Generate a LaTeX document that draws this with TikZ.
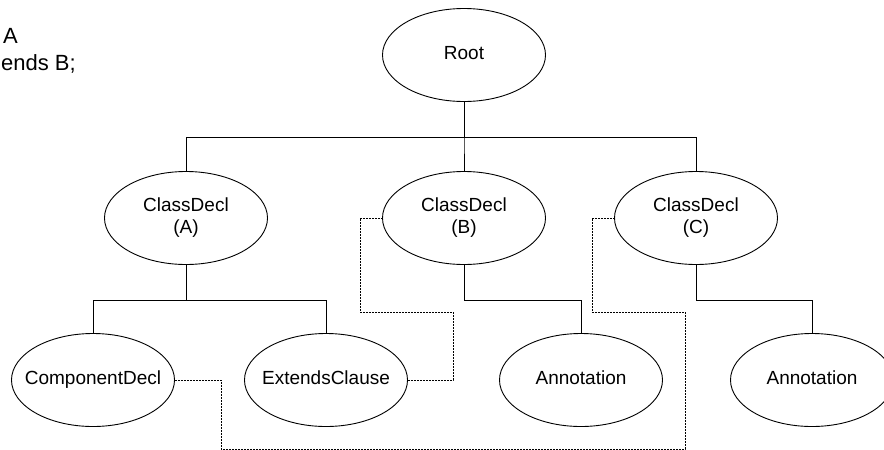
\documentclass[tikz,border=0pt]{standalone}
\usepackage{fontspec}
\setmainfont{Liberation Sans}
\usetikzlibrary{shapes.geometric}

% label of an oval, centred on a box of no width
\newcommand{\tlabel}[1]{\makebox[0pt]{\begin{tabular}{@{}c@{}}#1\end{tabular}}}

\begin{document}
\begin{tikzpicture}[x=1pt, y=-1pt, node distance=163pt]
    \tikzstyle{oval} = [draw, ellipse, line width=0.9pt, minimum width=163pt,
	minimum height=93pt, inner sep=0pt, font=\fontsize{19}{22}\selectfont]
    \tikzstyle{branch} = [to path={-- ++(0,35) -| (\tikztotarget)}]
    \tikzstyle{link} = [line width=0.8pt, dash pattern=on 2pt off 1pt]
    \tikzstyle{code} = [inner sep=0pt, font=\fontsize{22}{26}\selectfont]

    \useasboundingbox (0,0) rectangle (884,450);

	\node[code, anchor=base west] (code_a) at (3,43) {A};
	\node[code, anchor=base east] (code_b) at (76,70) {ends B;};

	\begin{scope}
		\path[-, line width=0.9pt]
			node[oval] at (464,55) (root) {\tlabel{Root}}
			node[oval, node distance=163pt, below of=root] (cls_B) {\tlabel{ClassDecl\\(B)}}
			node[oval, node distance=278pt, left of=cls_B] (cls_A) {\tlabel{ClassDecl\\(A)}}
			node[oval, node distance=232pt, right of=cls_B] (cls_C) {\tlabel{ClassDecl\\(C)}}
			node[oval, node distance=162pt, below of=cls_A, xshift=-93pt] (comp_A) {\tlabel{ComponentDecl}}
			node[oval, node distance=162pt, below of=cls_A, xshift=140pt] (ext_A) {\tlabel{ExtendsClause}}
			node[oval, node distance=162pt, below of=cls_B, xshift=117pt] (ann_B) {\tlabel{Annotation}}
			node[oval, node distance=162pt, below of=cls_C, xshift=116pt] (ann_C) {\tlabel{Annotation}}

			(root.south) edge[branch] (cls_A.north)
			(root.south) edge[branch] (cls_B.north)
			(root.south) edge[branch] (cls_C.north)

			(cls_A.south) edge[branch] (comp_A.north)
			(cls_A.south) edge[branch] (ext_A.north)

			(cls_B.south) edge[branch] (ann_B.north)

			(cls_C.south) edge[branch] (ann_C.north)
		;
	\end{scope}

	% references between the classes
	\draw[link] (comp_A.east) -- (221,380) -- (221,449) -- (685,449)
		-- (685,312) -- (592,312) |- (cls_C.west);
	\draw[link] (ext_A.east) -- (453,380) -- (453,312) -- (360,312)
		|- (cls_B.west);
\end{tikzpicture}
\end{document}
